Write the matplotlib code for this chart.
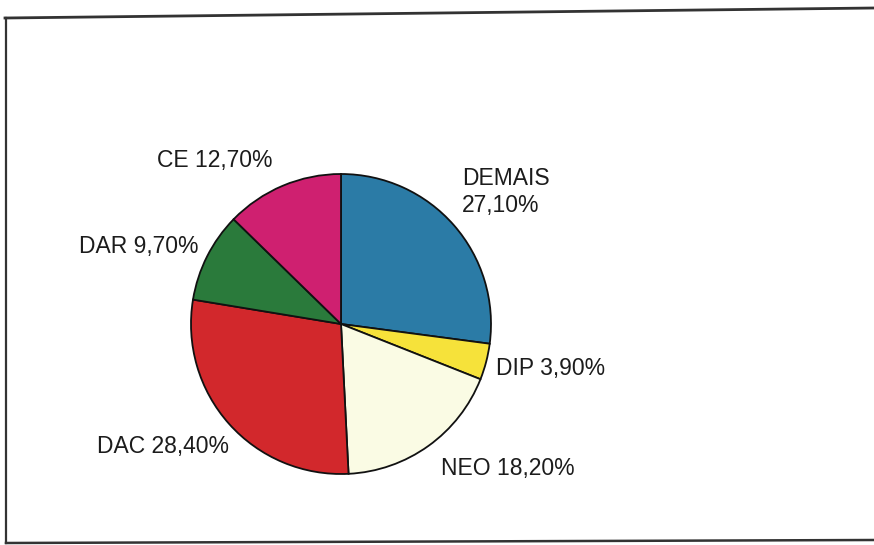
import matplotlib
matplotlib.use("Agg")
import matplotlib.pyplot as plt
from matplotlib.lines import Line2D

categories = ["DEMAIS", "DIP", "NEO", "DAC", "DAR", "CE"]
values = [27.10, 3.90, 18.20, 28.40, 9.70, 12.70]
labels = ["DEMAIS\n27,10%", "DIP 3,90%", "NEO 18,20%", "DAC 28,40%", "DAR 9,70%", "CE 12,70%"]

colors = ["#2b7ba6", "#f6e23a", "#fafbe4", "#d2282c", "#2a7a3b", "#cf2070"]
# label anchor positions (pixels, left edge / vertical centre)
label_pos = [(462, 192), (496, 369), (441, 469), (97, 447), (79, 247), (157, 160)]

W, H = 874, 545
fig = plt.figure(figsize=(W / 100, H / 100), dpi=100)
fig.patch.set_facecolor("white")
ax = fig.add_axes([0, 0, 1, 1])

cx, cy, r = 341, H - 324, 150
ax.pie(values, colors=colors, startangle=90, counterclock=False,
       center=(cx, cy), radius=r, frame=True,
       wedgeprops=dict(edgecolor="#111111", linewidth=1.3))
ax.set_xlim(0, W)
ax.set_ylim(0, H)
ax.set_aspect("equal")
ax.axis("off")

for lab, (x, y) in zip(labels, label_pos):
    ax.text(x, H - y, lab, ha="left", va="center", fontsize=16.5,
            family="Liberation Sans", color="#1c1c1c", linespacing=1.2)

# outer border of the chart area (slightly skewed scan)
fig.add_artist(Line2D([5 / W, 1.0], [1 - 18 / H, 1 - 8 / H], color="#333333", lw=2.0))
fig.add_artist(Line2D([6 / W, 6 / W], [1 - 18 / H, 1 - 543 / H], color="#333333", lw=1.6))
fig.add_artist(Line2D([6 / W, 1.0], [1 - 543 / H, 1 - 540 / H], color="#333333", lw=1.8))

fig.savefig("out.png", dpi=100, facecolor="white")
